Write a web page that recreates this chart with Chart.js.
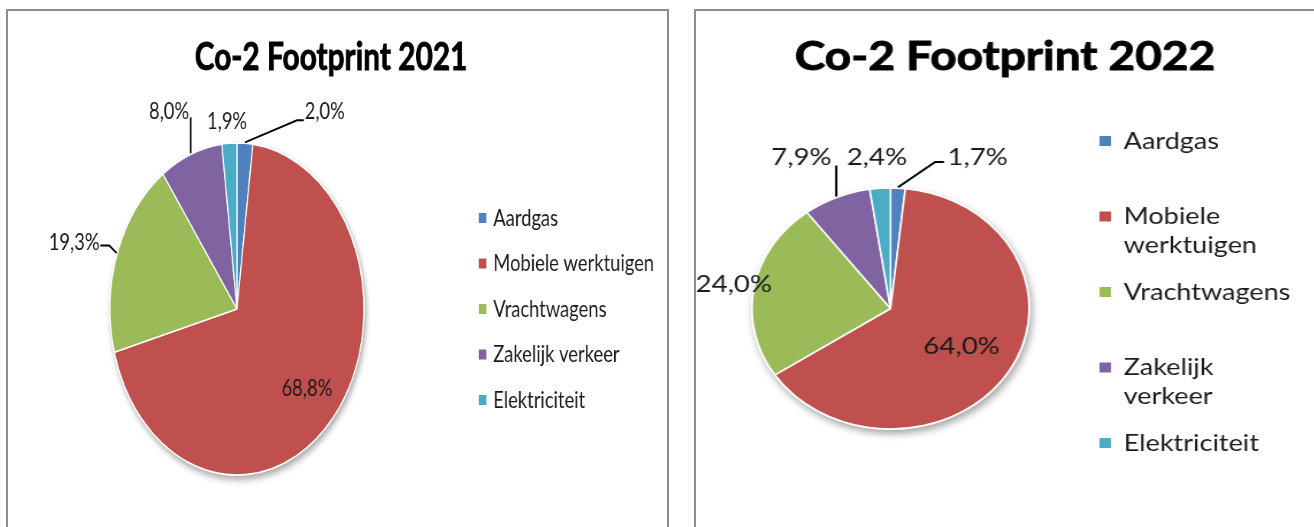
<!DOCTYPE html>
<html>
<head>
<meta charset="utf-8">
<title>Co-2 Footprint</title>
<script src="https://cdn.jsdelivr.net/npm/chart.js@4.4.1/dist/chart.umd.min.js"></script>
<style>
    html, body { margin: 0; padding: 0; background: #fff; }
    body { width: 1314px; height: 527px; position: relative; overflow: hidden; }
    .panel { position: absolute; top: 9px; height: 600px; box-sizing: border-box; border: 2px solid #8c8c8c; background: #fff; }
    #panel2021 { left: 6px; width: 663px; }
    #panel2022 { left: 694px; width: 700px; }
    canvas { position: absolute; top: 0; transform-origin: 0 0; }
    /* the original pictures were stretched, so the charts are too */
    #chart2021 { left: 9px; transform: scaleX(0.765); }
    #chart2022 { left: 697px; transform: scaleX(1.15); }
</style>
</head>
<body>
<div class="panel" id="panel2021"></div>
<div class="panel" id="panel2022"></div>
<canvas id="chart2021" width="860" height="527"></canvas>
<canvas id="chart2022" width="537" height="527"></canvas>
<script>
const categories = ['Aardgas', 'Mobiele werktuigen', 'Vrachtwagens', 'Zakelijk verkeer', 'Elektriciteit'];
const share2021 = [2.0, 68.8, 19.3, 8.0, 1.9];
const share2022 = [1.7, 64.0, 24.0, 7.9, 2.4];
const sliceColors = ['#4F81BD', '#C0504D', '#9BBB59', '#8064A2', '#4BACC6'];

const FONT = 'Lato, "Open Sans", sans-serif';

function pct(v) {
    return v.toFixed(1).replace('.', ',') + '%';
}

// titles, legend, data labels with leader lines, drop shadow
function decorPlugin(cfg) {
    return {
        id: 'decor',
        beforeDatasetsDraw(chart) {
            const arc = chart.getDatasetMeta(0).data[0];
            const ctx = chart.ctx;
            ctx.save();
            ctx.shadowColor = 'rgba(0, 0, 0, 0.35)';
            ctx.shadowBlur = 7;
            ctx.shadowOffsetX = 2;
            ctx.shadowOffsetY = 4;
            ctx.fillStyle = '#fff';
            ctx.beginPath();
            ctx.arc(arc.x, arc.y, arc.outerRadius + 1, 0, Math.PI * 2);
            ctx.fill();
            ctx.restore();
        },
        afterDatasetsDraw(chart) {
            const ctx = chart.ctx;
            const meta = chart.getDatasetMeta(0);
            const values = chart.data.datasets[0].data;
            ctx.save();
            ctx.font = cfg.labelFont;
            ctx.fillStyle = '#1a1a1a';
            ctx.strokeStyle = '#000';
            ctx.lineWidth = cfg.leaderWidth;
            ctx.textBaseline = 'middle';
            meta.data.forEach((arc, i) => {
                const spot = cfg.labels[i];
                const mid = (arc.startAngle + arc.endAngle) / 2;
                const text = pct(values[i]);
                if (spot.inside) {
                    ctx.textAlign = 'center';
                    ctx.fillText(text,
                        arc.x + Math.cos(mid) * arc.outerRadius * spot.inside,
                        arc.y + Math.sin(mid) * arc.outerRadius * spot.inside);
                    return;
                }
                const ex = arc.x + Math.cos(mid) * (arc.outerRadius + 1);
                const ey = arc.y + Math.sin(mid) * (arc.outerRadius + 1);
                let end = [ex, ey];
                if (spot.leader.length) {
                    ctx.beginPath();
                    ctx.moveTo(ex, ey);
                    spot.leader.forEach(([dx, dy]) => {
                        end = [ex + dx, ey + dy];
                        ctx.lineTo(end[0], end[1]);
                    });
                    ctx.stroke();
                }
                ctx.textAlign = spot.align;
                ctx.fillText(text, end[0] + spot.dx, end[1] + spot.dy);
            });
            ctx.restore();
        },
        afterDraw(chart) {
            const ctx = chart.ctx;
            const colors = chart.data.datasets[0].backgroundColor;
            ctx.save();
            ctx.fillStyle = '#000';
            ctx.strokeStyle = '#000';
            ctx.lineWidth = 0.9;
            ctx.font = cfg.titleFont;
            ctx.textAlign = 'center';
            ctx.textBaseline = 'alphabetic';
            ctx.fillText(cfg.title, cfg.titleX, cfg.titleY);
            ctx.strokeText(cfg.title, cfg.titleX, cfg.titleY);

            ctx.font = cfg.legendFont;
            ctx.textAlign = 'left';
            ctx.textBaseline = 'middle';
            chart.data.labels.forEach((label, i) => {
                const y = cfg.legendY + i * cfg.legendStep;
                const lines = cfg.legendWrap ? label.split(' ') : [label];
                ctx.fillStyle = colors[i];
                ctx.fillRect(cfg.legendX, y - 5, 10, 10);
                ctx.fillStyle = '#1a1a1a';
                lines.forEach((line, k) => {
                    ctx.fillText(line, cfg.legendX + cfg.legendGap, y + k * cfg.legendLine);
                });
            });
            ctx.restore();
        },
    };
}

function makeChart(id, values, cfg) {
    const canvas = document.getElementById(id);
    return new Chart(canvas, {
        type: 'pie',
        data: {
            labels: categories,
            datasets: [{
                data: values,
                backgroundColor: sliceColors,
                borderColor: '#fff',
                borderWidth: 1.5,
                hoverOffset: 0,
                radius: cfg.r,
            }],
        },
        options: {
            responsive: false,
            animation: false,
            devicePixelRatio: 1,
            layout: {
                padding: {
                    left: cfg.cx - cfg.r,
                    right: canvas.width - cfg.cx - cfg.r,
                    top: cfg.cy - cfg.r,
                    bottom: canvas.height - cfg.cy - cfg.r,
                },
            },
            plugins: {
                legend: { display: false },
                tooltip: { enabled: false },
                title: { display: false },
            },
        },
        plugins: [decorPlugin(cfg)],
    });
}

makeChart('chart2021', share2021, {
    cx: 298, cy: 309, r: 166,
    title: 'Co-2 Footprint 2021',
    titleFont: 'bold 39px ' + FONT, titleX: 421, titleY: 70,
    legendFont: '24px ' + FONT, legendX: 614, legendGap: 19, legendY: 218, legendStep: 45.5, legendLine: 29, legendWrap: false,
    labelFont: '24px ' + FONT, leaderWidth: 2,
    labels: [
        { leader: [[68, -22], [77, -22]], align: 'left', dx: 1, dy: -9 },
        { inside: 0.73 },
        { leader: [[-9.6, -7.3], [-21.3, -7.3]], align: 'right', dx: -1, dy: -3 },
        { leader: [[0, -36]], align: 'right', dx: -2, dy: -6 },
        { leader: [], align: 'center', dx: -3, dy: -21 },
    ],
});

makeChart('chart2022', share2022, {
    cx: 168.3, cy: 308.5, r: 120.5,
    title: 'Co-2 Footprint 2022',
    titleFont: 'bold 40px ' + FONT, titleX: 267.8, titleY: 70,
    legendFont: '23.5px ' + FONT, legendX: 350, legendGap: 21, legendY: 141, legendStep: 75.5, legendLine: 29, legendWrap: true,
    labelFont: '24px ' + FONT, leaderWidth: 2,
    labels: [
        { leader: [[32.3, -25.2], [40, -25.2]], align: 'left', dx: 3, dy: -5 },
        { inside: 0.6 },
        { leader: [], align: 'center', dx: -16.5, dy: -4 },
        { leader: [[0, -31]], align: 'right', dx: -4, dy: -8 },
        { leader: [], align: 'center', dx: -2.7, dy: -30 },
    ],
});
</script>
</body>
</html>
